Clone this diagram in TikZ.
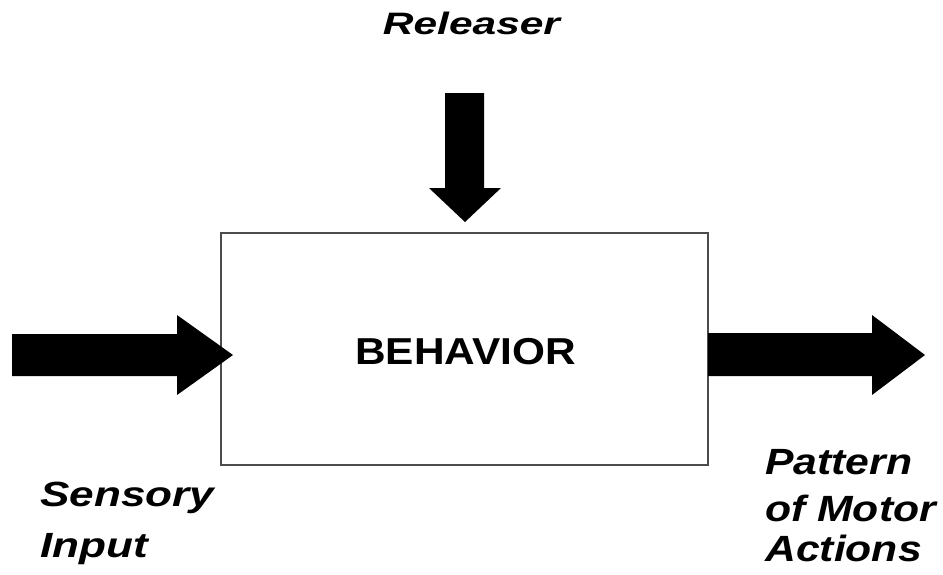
\documentclass[tikz,border=0pt]{standalone}
\usepackage{fontspec}
\setmainfont{Liberation Sans}
\usetikzlibrary{calc}
\begin{document}
\begin{tikzpicture}[x=1pt,y=-1pt,
  lbl/.style={inner sep=0pt},
  blockarrow/.style={fill=black, draw=none}]
\useasboundingbox (0,0) rectangle (943,574);
% box
\node[draw=black!70, line width=1.3pt, minimum width=487pt, minimum height=232pt, inner sep=0pt] (beh) at (464.5,349) {};
\node[inner sep=0pt, font=\bfseries, anchor=base] (behtxt) at (465.5,364) {\fontsize{37.5}{40}\selectfont\scalebox{1.13}[1]{BEHAVIOR}};
% named arrow anchors
\coordinate (inTip) at (233,355);
\coordinate (inTail) at (12,355);
\coordinate (relTip) at (465,222);
\coordinate (relTail) at (465,93);
\coordinate (outTail) at (708,355);
\coordinate (outTip) at (925,355);
% sensory input arrow
\fill[blockarrow] (inTail) ++(0,-21) -- (177,334) -- (177,315) -- (inTip) -- (177,395) -- (177,376) -- ($(inTail)+(0,21)$) -- cycle;
% releaser arrow
\fill[blockarrow] (relTail) ++(-20,0) -- (445,188) -- (429,188) -- (relTip) -- (501,188) -- (484,188) -- ($(relTail)+(19,0)$) -- cycle;
% output arrow
\fill[blockarrow] (outTail) ++(0,-22) -- (872,333) -- (872,315) -- (outTip) -- (872,395) -- (872,376) -- ($(outTail)+(0,21)$) -- cycle;
% labels
\node[lbl, anchor=base, font={\bfseries\itshape\fontsize{31}{32}\selectfont}] (rel) at (471.5,34) {\scalebox{1.37}[1]{Releaser}};
\node[lbl, anchor=north west, align=left, font={\bfseries\itshape\fontsize{35}{51}\selectfont}] (sens) at (40,482) {\scalebox{1.26}[1]{Sensory}\\\scalebox{1.26}[1]{Input}};
\node[lbl, anchor=north west, align=left, font={\bfseries\itshape\fontsize{36.5}{44}\selectfont}] (pat) at (765,449) {\scalebox{1.17}[1]{Pattern}\\[3pt]\scalebox{1.17}[1]{of Motor}\\[-4pt]\scalebox{1.17}[1]{Actions}};
\end{tikzpicture}
\end{document}
